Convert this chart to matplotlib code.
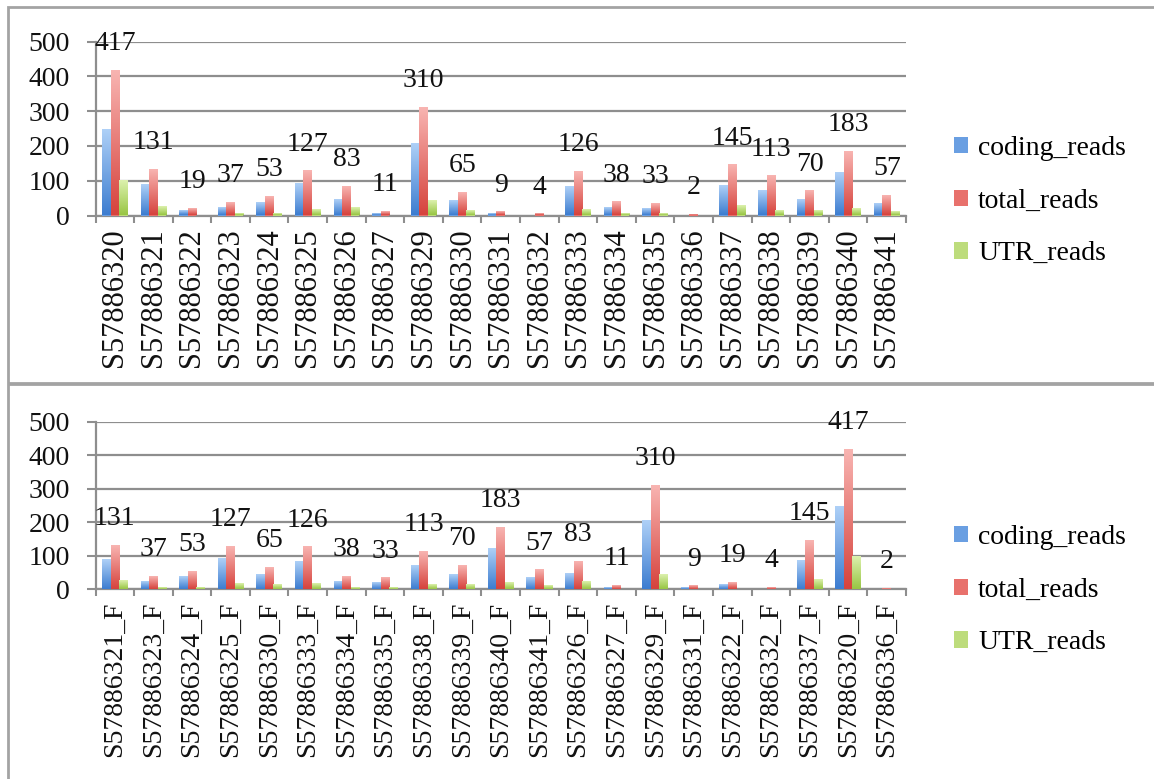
import numpy as np
import matplotlib.pyplot as plt
from matplotlib.colors import LinearSegmentedColormap
from matplotlib.patches import Rectangle

plt.rcParams['font.family'] = ['Liberation Serif', 'DejaVu Serif']

# top panel: samples in id order
ids_top = ['S57886320', 'S57886321', 'S57886322', 'S57886323', 'S57886324',
           'S57886325', 'S57886326', 'S57886327', 'S57886329', 'S57886330',
           'S57886331', 'S57886332', 'S57886333', 'S57886334', 'S57886335',
           'S57886336', 'S57886337', 'S57886338', 'S57886339', 'S57886340',
           'S57886341']
coding_reads = [245, 87, 14, 23, 36, 90, 45, 3, 205, 43, 3, 0, 82, 22, 19, 0, 84, 71, 44, 122, 34]
total_reads = [417, 131, 19, 37, 53, 127, 83, 11, 310, 65, 9, 4, 126, 38, 33, 2, 145, 113, 70, 183, 57]
utr_reads = [98, 24, 0, 5, 5, 15, 23, 0, 42, 13, 0, 0, 15, 4, 4, 0, 27, 12, 12, 19, 9]

# bottom panel: same samples (_F), other order
ids_bottom = ['S57886321', 'S57886323', 'S57886324', 'S57886325', 'S57886330',
              'S57886333', 'S57886334', 'S57886335', 'S57886338', 'S57886339',
              'S57886340', 'S57886341', 'S57886326', 'S57886327', 'S57886329',
              'S57886331', 'S57886322', 'S57886332', 'S57886337', 'S57886320',
              'S57886336']

W, H = 1154, 779
grid_c = '#8e8e8e'
colors = {
    'coding_reads': ('#aed0f7', '#3d7dd0', '#6a9fe2'),
    'total_reads': ('#f8b4b1', '#d6433d', '#e8716c'),
    'UTR_reads': ('#dcf1ad', '#98c544', '#bddc7c'),
}


def draw_panel(ax, labels, series, totals, label_size):
    x = np.arange(len(labels))
    w = 0.222
    for k, (name, vals) in enumerate(series):
        ctop, cbot, cmid = colors[name]
        bars = ax.bar(x + (k - 1) * w, vals, w, color=cmid, label=name, zorder=3)
        cmap = LinearSegmentedColormap.from_list(name, [cbot, ctop])
        grad = np.linspace(0, 1, 64).reshape(-1, 1)
        for b in bars:
            h = b.get_height()
            if h <= 0:
                continue
            x0 = b.get_x()
            ax.imshow(grad, extent=(x0, x0 + w, 0, h), origin='lower', cmap=cmap,
                      aspect='auto', zorder=3.5, interpolation='bilinear')

    for xi, v in zip(x, totals):
        ax.annotate(str(v), (xi, v), xytext=(0, 19.5), textcoords='offset points',
                    ha='center', va='center', fontsize=20, color='#111111')

    ax.set_xlim(-0.5, len(labels) - 0.5)
    ax.set_ylim(0, 500)
    ax.set_yticks(range(0, 501, 100))
    ax.set_axisbelow(True)
    ax.yaxis.grid(True, color=grid_c, lw=1.6)
    ax.xaxis.grid(False)

    ax.set_xticks(np.arange(-0.5, len(labels)))
    ax.set_xticklabels([])
    ax.set_xticks(x, minor=True)
    ax.set_xticklabels(labels, minor=True, rotation=90)
    ax.tick_params(axis='x', which='major', length=5, width=1.5, color=grid_c)
    ax.tick_params(axis='x', which='minor', length=0, pad=9, labelsize=label_size,
                   labelcolor='#111111')
    ax.tick_params(axis='y', length=6.5, width=1.5, color=grid_c, pad=12,
                   labelsize=20, labelcolor='#111111')

    for s in ['top', 'right']:
        ax.spines[s].set_visible(False)
    for s in ['left', 'bottom']:
        ax.spines[s].set_color(grid_c)
        ax.spines[s].set_linewidth(1.6)


fig = plt.figure(figsize=(W / 100, H / 100), dpi=100)

left = 95.5 / W
width = (906 - 95.5) / W
ax1 = fig.add_axes([left, 1 - 215.5 / H, width, (215.5 - 41.7) / H])
ax2 = fig.add_axes([left, 1 - 589.3 / H, width, (589.3 - 421.8) / H])

draw_panel(ax1, ids_top,
           [('coding_reads', coding_reads), ('total_reads', total_reads), ('UTR_reads', utr_reads)],
           total_reads, 22)

lookup = {s: i for i, s in enumerate(ids_top)}
idx = [lookup[s] for s in ids_bottom]
draw_panel(ax2, [s + '_F' for s in ids_bottom],
           [('coding_reads', [coding_reads[i] for i in idx]),
            ('total_reads', [total_reads[i] for i in idx]),
            ('UTR_reads', [utr_reads[i] for i in idx])],
           [total_reads[i] for i in idx], 20)

for ax, yc in [(ax1, 201), (ax2, 590)]:
    ax.legend(loc='center left', bbox_to_anchor=(954 / W, 1 - yc / H),
              bbox_transform=fig.transFigure, frameon=False, fontsize=20,
              handlelength=0.52, handleheight=0.52, handletextpad=0.35,
              labelspacing=1.0, borderpad=0, borderaxespad=0)

# panel frames
fig.add_artist(Rectangle((8 / W, 1 - 382.5 / H), (W + 20) / W, (382.5 - 7) / H,
                         transform=fig.transFigure, fill=False, ec='#a3a3a3', lw=2))
fig.add_artist(Rectangle((8 / W, -0.05), (W + 20) / W, 0.05 + (H - 384.5) / H,
                         transform=fig.transFigure, fill=False, ec='#a3a3a3', lw=2))

fig.savefig('out.png', dpi=100)
